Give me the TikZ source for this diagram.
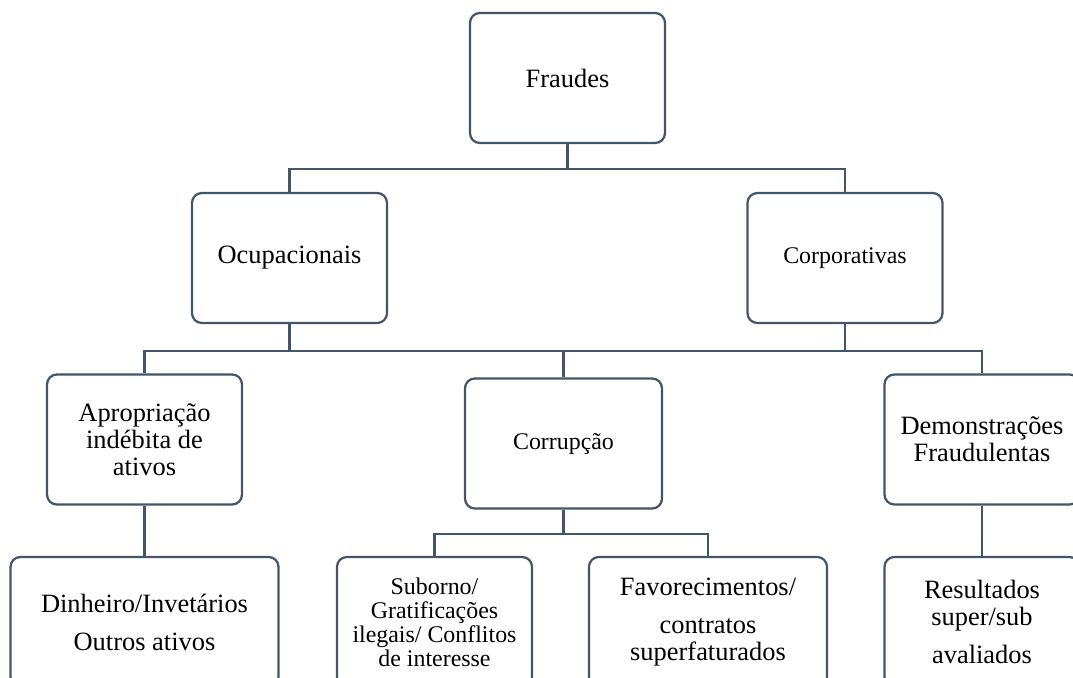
\documentclass[tikz,border=0pt]{standalone}
\usepackage{fontspec}
\setmainfont{Liberation Serif}
\usetikzlibrary{positioning}
\definecolor{boxline}{RGB}{68,84,106}
\tikzset{
box/.style={draw=boxline, line width=1.6pt, rounded corners=7pt, minimum width=4.875cm, minimum height=3.25cm, inner sep=0pt, align=center, font=\fontsize{18.8}{19.2}\selectfont},
small/.style={font=\fontsize{17}{17.1}\selectfont},
link/.style={draw=boxline, line width=1.6pt}
}
\begin{document}
\begin{tikzpicture}[on grid]
\useasboundingbox (-14.1875,-15) rectangle (12.6375,1.95);
\clip (-14.1875,-15) rectangle (12.6375,1.95);
\node[box](fr){Fraudes};
\node[box, below left=4.5cm and 6.95cm of fr](ocp){Ocupacionais};
\node[box, small, below right=4.5cm and 6.9375cm of fr](crp){Corporativas};
\node[box, below left=4.5375cm and 3.625cm of ocp](apr){Apropriação\\indébita de\\ativos};
\node[box, small, minimum width=4.925cm, below right=4.6375cm and 6.85cm of ocp](cor){Corrupção};
\node[box, below right=4.5375cm and 3.425cm of crp](dem){Demonstrações\\Fraudulentas};
\node[box, minimum width=6.7cm, below=4.5625cm of apr](din){Dinheiro/Invetários\\[7.8pt]Outros ativos};
\node[box, small, below left=4.4625cm and 3.225cm of cor](sub){Suborno/\\Gratificações\\ilegais/ Conflitos\\de interesse};
\node[box, minimum width=5.95cm, below right=4.4625cm and 3.6125cm of cor](fav){Favorecimentos/\\[7.8pt]contratos\\superfaturados};
\node[box, below=4.5625cm of dem](res){Resultados\\super/sub\\[7.8pt]avaliados};
\draw[link] (fr.south) -- ++(0,-0.625) -| (ocp.north);
\draw[link] (fr.south) -- ++(0,-0.625) -| (crp.north);
\draw[link] (ocp.south) -- ++(0,-0.675) -| (apr.north);
\draw[link] (ocp.south) -- ++(0,-0.675) -| (cor.north);
\draw[link] (crp.south) -- ++(0,-0.675) -| (cor.north);
\draw[link] (crp.south) -- ++(0,-0.675) -| (dem.north);
\draw[link] (apr.south) -- (din.north);
\draw[link] (cor.south) -- ++(0,-0.6) -| (sub.north);
\draw[link] (cor.south) -- ++(0,-0.6) -| (fav.north);
\draw[link] (dem.south) -- (res.north);
\end{tikzpicture}
\end{document}
